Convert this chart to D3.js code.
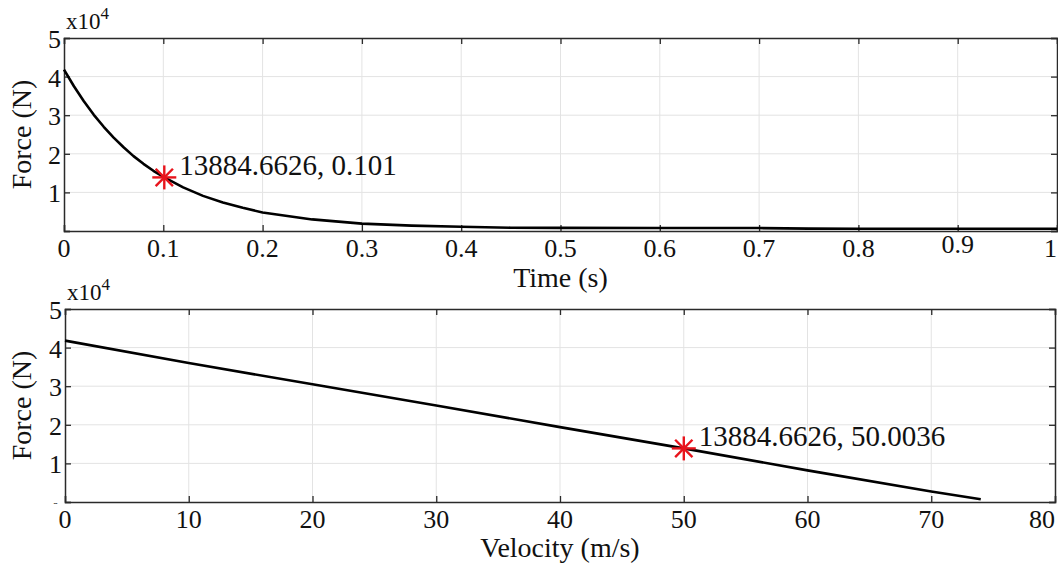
<!DOCTYPE html>
<html>
<head>
<meta charset="utf-8">
<script src="https://cdn.jsdelivr.net/npm/d3@7"></script>
<style>
  html, body { margin: 0; padding: 0; background: #fff; }
  svg { display: block; }
</style>
</head>
<body>
<svg id="chart" width="1058" height="563"></svg>
<script>
// ---------------- data ----------------
const timeTicks = [0, 0.1, 0.2, 0.3, 0.4, 0.5, 0.6, 0.7, 0.8, 0.9, 1];
const timeTickLabels = ["0", "0.1", "0.2", "0.3", "0.4", "0.5", "0.6", "0.7", "0.8", "0.9", "1"];
const velTicks = [0, 10, 20, 30, 40, 50, 60, 70, 80];
const velTickLabels = ["0", "10", "20", "30", "40", "50", "60", "70", "80"];
const forceTicks = [0, 1, 2, 3, 4, 5];           // in units of 1e4 N
const forceTickLabels = ["0", "1", "2", "3", "4", "5"];

const time = [0, 0.01, 0.02, 0.03, 0.04, 0.05, 0.06, 0.07, 0.08, 0.09, 0.101, 0.12, 0.14, 0.16, 0.18, 0.2, 0.25, 0.3, 0.35, 0.4, 0.45, 0.5, 0.6, 0.7, 0.75, 0.8, 0.9, 1.0];
const forceVsTime = [41800, 37500, 33600, 30100, 27000, 24200, 21700, 19400, 17400, 15600, 13885, 11300, 9100, 7400, 6000, 4800, 3000, 1900, 1400, 1100, 850, 800, 780, 760, 620, 600, 600, 600];

const velocity = [0, 10, 20, 30, 40, 50, 60, 70, 74];
const forceVsVel = [41800, 36000, 30500, 25000, 19400, 13885, 8200, 2700, 700];

const markForce = 13884.6626;
const markTime = 0.101;
const markVel = 50.0036;

// ---------------- font detection (serif wanted) ----------------
function hasFont(name) {
  const c = document.createElement("canvas").getContext("2d");
  const s = "Force (N) 13884.6626, 0.101 Wwmil";
  c.font = "40px monospace"; const a = c.measureText(s).width;
  c.font = `40px "${name}", monospace`; const b = c.measureText(s).width;
  c.font = "40px sans-serif"; const a2 = c.measureText(s).width;
  c.font = `40px "${name}", sans-serif`; const b2 = c.measureText(s).width;
  return a !== b || a2 !== b2;
}
const candidates = ["Liberation Serif", "Times New Roman", "Tinos", "Nimbus Roman", "Nimbus Roman No9 L", "FreeSerif", "Noto Serif", "DejaVu Serif", "Times"];
const found = candidates.find(hasFont);
const FONT = found ? `"${found}", serif` : "serif";

const svg = d3.select("#chart").attr("font-family", FONT);
const FS_TICK = 26, FS_LABEL = 28, FS_NOTE = 29;

function txt(sel) {
  return sel.attr("font-family", FONT).attr("fill", "#111");
}

function panel(cfg) {
  const g = svg.append("g");
  const x = d3.scaleLinear().domain(cfg.xDomain).range([cfg.left, cfg.right]);
  const y = d3.scaleLinear().domain([0, 5e4]).range([cfg.bottom, cfg.top]);
  const yT = forceTicks.map(d => d * 1e4);

  // grid
  g.append("g").selectAll("line").data(cfg.xTicks.slice(1, -1)).join("line")
    .attr("x1", d => x(d)).attr("x2", d => x(d)).attr("y1", cfg.top).attr("y2", cfg.bottom)
    .attr("stroke", "#e3e3e3").attr("stroke-width", 1);
  g.append("g").selectAll("line").data(yT.slice(1, -1)).join("line")
    .attr("y1", d => y(d)).attr("y2", d => y(d)).attr("x1", cfg.left).attr("x2", cfg.right)
    .attr("stroke", "#e3e3e3").attr("stroke-width", 1);

  // axes with inward ticks on all sides
  const tl = 6;
  const axB = d3.axisBottom(x).tickValues(cfg.xTicks).tickSize(-tl).tickFormat("");
  const axT = d3.axisTop(x).tickValues(cfg.xTicks).tickSize(-tl).tickFormat("");
  const axL = d3.axisLeft(y).tickValues(yT).tickSize(-tl).tickFormat("");
  const axR = d3.axisRight(y).tickValues(yT).tickSize(-tl).tickFormat("");
  [[axB, `translate(0,${cfg.bottom})`], [axT, `translate(0,${cfg.top})`],
   [axL, `translate(${cfg.left},0)`], [axR, `translate(${cfg.right},0)`]].forEach(([ax, tr]) => {
    const a = g.append("g").attr("transform", tr).call(ax);
    a.selectAll("path.domain").attr("stroke", "#2a2a2a").attr("stroke-width", 1.5);
    a.selectAll(".tick line").attr("stroke", "#2a2a2a").attr("stroke-width", 1.3);
  });

  // x tick labels
  txt(g.append("g").selectAll("text").data(cfg.xTicks).join("text"))
    .attr("x", (d, i) => i === cfg.xTicks.length - 1 ? cfg.right : x(d))
    .attr("y", (d, i) => cfg.bottom + 26 - (cfg.raise && cfg.raise[i] ? cfg.raise[i] : 0))
    .attr("text-anchor", (d, i) => i === cfg.xTicks.length - 1 ? "end" : "middle")
    .attr("font-size", FS_TICK)
    .text((d, i) => cfg.xTickLabels[i]);

  // y tick labels (1..5)
  txt(g.append("g").selectAll("text").data(yT.slice(1)).join("text"))
    .attr("x", cfg.left - 3).attr("y", d => y(d) + 10)
    .attr("text-anchor", "end").attr("font-size", FS_TICK)
    .text((d, i) => forceTickLabels[i + 1]);

  // exponent
  const ex = txt(g.append("text")).attr("x", cfg.left + 2).attr("y", cfg.top - 9).attr("font-size", 23);
  ex.append("tspan").text("x10");
  ex.append("tspan").attr("dy", -10).attr("font-size", 17).text("4");

  // axis labels
  txt(g.append("text"))
    .attr("transform", `translate(${cfg.yLabelX},${(cfg.top + cfg.bottom) / 2}) rotate(-90)`)
    .attr("text-anchor", "middle").attr("font-size", FS_LABEL).text("Force (N)");
  txt(g.append("text")).attr("x", (cfg.left + cfg.right) / 2).attr("y", cfg.xLabelY)
    .attr("text-anchor", "middle").attr("font-size", FS_LABEL).text(cfg.xLabel);

  // curve
  g.append("path")
    .datum(cfg.xs.map((d, i) => [d, cfg.ys[i]]))
    .attr("d", d3.line().x(d => x(d[0])).y(d => y(d[1])))
    .attr("fill", "none").attr("stroke", "#000").attr("stroke-width", 2.6)
    .attr("stroke-linejoin", "round");

  // marker (asterisk)
  const mx = x(cfg.mark[0]), my = y(cfg.mark[1]), r = 12;
  const m = g.append("g").attr("transform", `translate(${mx},${my})`);
  const arms = [[0, -r, 0, r], [-r, 0, r, 0], [-r * 0.72, -r * 0.72, r * 0.72, r * 0.72], [-r * 0.72, r * 0.72, r * 0.72, -r * 0.72]];
  m.selectAll("line").data(arms).join("line")
    .attr("x1", d => d[0]).attr("y1", d => d[1]).attr("x2", d => d[2]).attr("y2", d => d[3])
    .attr("stroke", "#e8141c").attr("stroke-width", 2.4);

  // annotation
  txt(g.append("text")).attr("x", mx + 15).attr("y", my - 2)
    .attr("font-size", FS_NOTE).text(cfg.note);

  return { g, x, y };
}

panel({
  left: 64, right: 1057, top: 38, bottom: 231,
  xDomain: [0, 1], xTicks: timeTicks, xTickLabels: timeTickLabels,
  raise: [0, 0, 0, 0, 0, 0, 0, 0, 0, 4, 0],
  xs: time, ys: forceVsTime,
  mark: [markTime, markForce],
  note: `${markForce}, ${markTime}`,
  xLabel: "Time (s)", xLabelY: 287, yLabelX: 31
});

const p2 = panel({
  left: 65, right: 1055, top: 309, bottom: 502,
  xDomain: [0, 80], xTicks: velTicks, xTickLabels: velTickLabels,
  xs: velocity, ys: forceVsVel,
  mark: [markVel, markForce],
  note: `${markForce}, ${markVel}`,
  xLabel: "Velocity (m/s)", xLabelY: 557, yLabelX: 31
});

// partially hidden y "0" label of lower panel
const clip = svg.append("clipPath").attr("id", "zclip");
clip.append("rect").attr("x", 40).attr("y", 490).attr("width", 24).attr("height", 14);
txt(svg.append("text")).attr("clip-path", "url(#zclip)")
  .attr("x", 59).attr("y", p2.y(0) + 11).attr("text-anchor", "end").attr("font-size", 14)
  .text(forceTickLabels[0]);
</script>
</body>
</html>
